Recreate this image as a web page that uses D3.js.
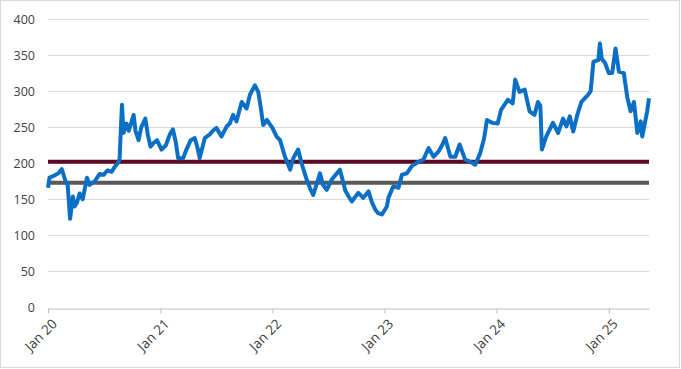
<!DOCTYPE html>
<html>
<head>
<meta charset="utf-8">
<script src="https://cdn.jsdelivr.net/npm/d3@7"></script>
<style>
  body { margin: 0; background: #fff; }
  text { font-family: "Open Sans", "Liberation Sans", sans-serif; fill: #404040; }
  .xlab { font-size: 13.5px; }
</style>
</head>
<body>
<div id="chart"></div>
<script>
// series
const dates = [
  "2020-01-01","2020-01-06","2020-01-22","2020-02-04","2020-02-15","2020-02-27","2020-03-05","2020-03-13",
  "2020-03-22","2020-03-27","2020-04-04","2020-04-13","2020-04-23","2020-05-07","2020-05-15","2020-06-01",
  "2020-06-17","2020-06-30","2020-07-13","2020-07-26","2020-08-07","2020-08-15","2020-08-21","2020-08-29",
  "2020-09-03","2020-09-13","2020-09-20","2020-10-06","2020-10-12","2020-10-22","2020-10-31","2020-11-13",
  "2020-11-21","2020-11-30","2020-12-10","2020-12-21","2021-01-05","2021-01-19","2021-02-01","2021-02-11",
  "2021-02-20","2021-02-28","2021-03-16","2021-03-28","2021-04-10","2021-04-23","2021-05-03","2021-05-09",
  "2021-05-26","2021-06-11","2021-06-21","2021-07-03","2021-07-19","2021-08-05","2021-08-15","2021-08-26",
  "2021-09-06","2021-09-23","2021-10-09","2021-10-20","2021-11-05","2021-11-16","2021-11-25","2021-12-02",
  "2021-12-14","2022-01-01","2022-01-15","2022-01-26","2022-02-11","2022-02-28","2022-03-10","2022-03-26",
  "2022-04-06","2022-04-23","2022-05-04","2022-05-14","2022-05-26","2022-06-05","2022-06-15","2022-06-27",
  "2022-07-13","2022-07-30","2022-08-09","2022-08-19","2022-08-26","2022-09-05","2022-09-17","2022-09-27",
  "2022-10-08","2022-10-24","2022-11-10","2022-11-22","2022-12-02","2022-12-11","2022-12-24","2023-01-09",
  "2023-01-14","2023-01-30","2023-02-16","2023-02-27","2023-03-15","2023-03-31","2023-04-22","2023-05-08",
  "2023-05-25","2023-06-10","2023-06-26","2023-07-08","2023-07-18","2023-08-04","2023-08-20","2023-09-03",
  "2023-09-21","2023-10-08","2023-10-24","2023-11-09","2023-11-22","2023-12-01","2023-12-18","2024-01-05",
  "2024-01-16","2024-02-07","2024-02-23","2024-03-02","2024-03-16","2024-04-02","2024-04-18","2024-05-04",
  "2024-05-15","2024-05-23","2024-05-28","2024-06-11","2024-07-03","2024-07-20","2024-08-05","2024-08-16",
  "2024-08-27","2024-09-07","2024-09-21","2024-10-04","2024-10-26","2024-11-03","2024-11-12","2024-11-28",
  "2024-12-03","2024-12-09","2024-12-20","2025-01-01","2025-01-12","2025-01-23","2025-02-03","2025-02-19",
  "2025-03-02","2025-03-13","2025-03-24","2025-04-04","2025-04-15","2025-04-20","2025-05-06","2025-05-12"
];
const values = [
  166,180,183,186,192,175,170,123,
  154,140,145,158,150,180,170,175,
  185,184,190,188,196,200,205,281,
  242,255,245,267,245,232,250,262,
  240,223,228,232,219,225,240,247,
  230,207,207,220,232,235,220,207,
  235,240,245,249,237,251,255,267,
  258,285,276,295,308,299,275,253,
  260,249,237,232,209,191,207,219,
  200,177,165,156,172,186,170,163,
  177,186,191,175,163,155,147,153,
  159,152,161,145,136,131,129,140,
  152,168,166,184,186,196,202,205,
  221,209,216,225,235,209,209,226,
  205,202,198,214,235,260,256,255,
  274,288,283,316,299,302,272,267,
  285,280,219,237,256,242,262,251,
  265,244,268,285,295,300,341,343,
  366,345,339,325,325,359,327,325,
  292,272,285,242,258,237,272,290
];
const redLevel = 202;
const grayLevel = 173;
const yTicks = [0, 50, 100, 150, 200, 250, 300, 350, 400];
const xTicks = ["2020-01-01","2021-01-01","2022-01-01","2023-01-01","2024-01-01","2025-01-01"];

const W = 681, H = 369;
const margin = { top: 19, right: 32, bottom: 61, left: 48 };

const parse = d3.timeParse("%Y-%m-%d");
const data = dates.map((d, i) => ({ date: parse(d), value: values[i] }));

const svg = d3.select("#chart").append("svg")
    .attr("width", W).attr("height", H);

// chart border
svg.append("rect")
    .attr("x", 0.5).attr("y", 0.5)
    .attr("width", W - 2).attr("height", H - 2)
    .attr("fill", "#fff").attr("stroke", "#d9d9d9");

const x = d3.scaleTime()
    .domain([parse("2020-01-01"), parse("2025-05-12")])
    .range([margin.left, W - margin.right]);
const y = d3.scaleLinear()
    .domain([0, 400])
    .range([H - margin.bottom - 0.5, margin.top]);

// gridlines
svg.append("g")
    .selectAll("line")
    .data(yTicks.slice(1))
    .enter().append("line")
    .attr("x1", margin.left).attr("x2", W - margin.right)
    .attr("y1", d => Math.round(y(d)) + 0.5).attr("y2", d => Math.round(y(d)) + 0.5)
    .attr("stroke", "#d9d9d9").attr("stroke-width", 1);

// y labels
svg.append("g")
    .selectAll("text")
    .data(yTicks)
    .enter().append("text")
    .attr("x", 35).attr("y", d => y(d) + 4.5)
    .attr("text-anchor", "end")
    .style("font-size", "12.5px")
    .text(d => d);

// x axis
const xAxis = d3.axisBottom(x)
    .tickValues(xTicks.map(parse))
    .tickFormat(d3.timeFormat("Jan %y"))
    .tickSize(5)
    .tickSizeOuter(0);
const gx = svg.append("g")
    .attr("transform", `translate(0,${Math.round(y(0)) + 0.5})`)
    .call(xAxis)
    .attr("font-size", null)
    .attr("font-family", null);
gx.select(".domain").attr("stroke", "#bfbfbf");
gx.selectAll(".tick line").attr("stroke", "#bfbfbf");
gx.selectAll(".tick text")
    .attr("class", "xlab")
    .attr("fill", "#404040")
    .attr("text-anchor", "end")
    .attr("x", 0).attr("y", 0)
    .attr("dy", "0.35em")
    .attr("transform", "translate(6,13) rotate(-45)");

// reference levels
svg.append("line")
    .attr("x1", margin.left).attr("x2", W - margin.right)
    .attr("y1", y(redLevel)).attr("y2", y(redLevel))
    .attr("stroke", "#5b0a22").attr("stroke-width", 4);
svg.append("line")
    .attr("x1", margin.left).attr("x2", W - margin.right)
    .attr("y1", y(grayLevel)).attr("y2", y(grayLevel))
    .attr("stroke", "#595959").attr("stroke-width", 4);

// main series
const line = d3.line()
    .x(d => x(d.date))
    .y(d => y(d.value));
svg.append("path")
    .datum(data)
    .attr("fill", "none")
    .attr("stroke", "#0b6fc6")
    .attr("stroke-width", 4)
    .attr("stroke-linejoin", "round")
    .attr("d", line);
</script>
</body>
</html>
